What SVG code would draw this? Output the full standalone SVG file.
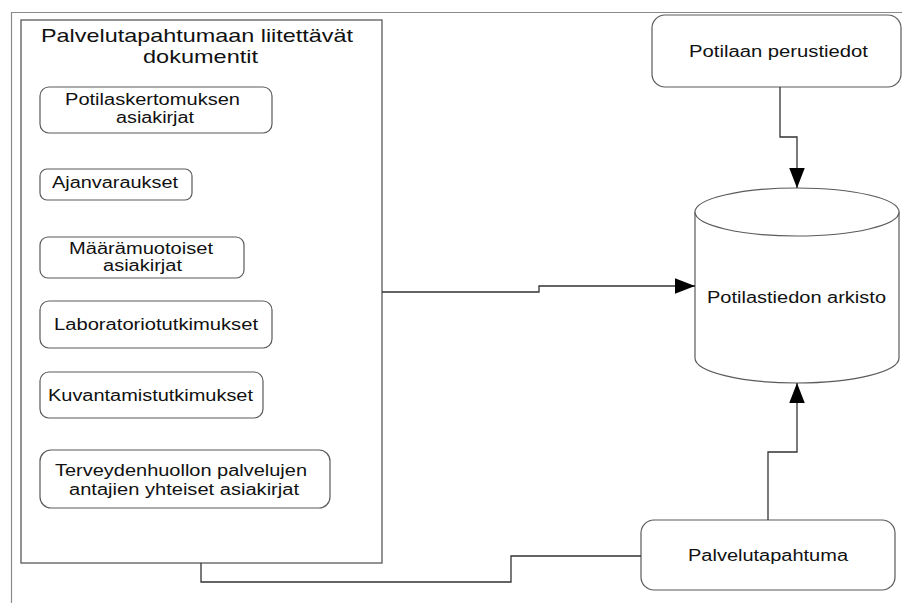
<svg xmlns="http://www.w3.org/2000/svg" width="902" height="603" viewBox="0 0 902 603">
<style>
.frame{fill:none;stroke:#8a8a8a;stroke-width:1.2}
.box{fill:#fff;stroke:#5a5a5a;stroke-width:1.2}
.cont{fill:#fff;stroke:#5a5a5a;stroke-width:1.3}
.conn{fill:none;stroke:#333;stroke-width:1.3}
text{font-family:"Liberation Sans",Arial,sans-serif;fill:#111;}
.t{font-size:16px}
.h{font-size:19px}
</style>
<defs>
<marker id="arr" markerUnits="userSpaceOnUse" markerWidth="20" markerHeight="16" viewBox="0 0 18 14" refX="18" refY="7" orient="auto">
<path d="M0,0 L18,7 L0,14 Z" fill="#000"/>
</marker>
</defs>
<rect width="902" height="603" fill="#fff"/>
<path class="frame" d="M11.5,603 V12.5 H902"/>

<g id="container">
<rect class="cont" x="21" y="20" width="361" height="543"/>
<text class="h" x="41" y="42" textLength="312" lengthAdjust="spacingAndGlyphs">Palvelutapahtumaan liitettävät</text>
<text class="h" x="143" y="63" textLength="115" lengthAdjust="spacingAndGlyphs">dokumentit</text>
</g>

<g id="potilaskertomuksen">
<rect class="box" x="40" y="87" width="232" height="46" rx="9"/>
<text class="t" x="65" y="105" textLength="175" lengthAdjust="spacingAndGlyphs">Potilaskertomuksen</text>
<text class="t" x="116" y="123" textLength="78" lengthAdjust="spacingAndGlyphs">asiakirjat</text>
</g>

<g id="ajanvaraukset">
<rect class="box" x="40" y="169" width="152" height="31" rx="7"/>
<text class="t" x="52" y="188" textLength="126" lengthAdjust="spacingAndGlyphs">Ajanvaraukset</text>
</g>

<g id="maaramuotoiset">
<rect class="box" x="40" y="237" width="204" height="41" rx="8"/>
<text class="t" x="69" y="254" textLength="144" lengthAdjust="spacingAndGlyphs">Määrämuotoiset</text>
<text class="t" x="103" y="271" textLength="79" lengthAdjust="spacingAndGlyphs">asiakirjat</text>
</g>

<g id="laboratoriotutkimukset">
<rect class="box" x="40" y="301" width="232" height="47" rx="9"/>
<text class="t" x="54" y="330" textLength="204" lengthAdjust="spacingAndGlyphs">Laboratoriotutkimukset</text>
</g>

<g id="kuvantamistutkimukset">
<rect class="box" x="40" y="372" width="223" height="46" rx="9"/>
<text class="t" x="48" y="401" textLength="205" lengthAdjust="spacingAndGlyphs">Kuvantamistutkimukset</text>
</g>

<g id="terveydenhuollon">
<rect class="box" x="40" y="450" width="290" height="58" rx="11"/>
<text class="t" x="55" y="476" textLength="252" lengthAdjust="spacingAndGlyphs">Terveydenhuollon palvelujen</text>
<text class="t" x="69" y="495" textLength="230" lengthAdjust="spacingAndGlyphs">antajien yhteiset asiakirjat</text>
</g>

<g id="perustiedot">
<rect class="box" x="652" y="15" width="249" height="72" rx="13"/>
<text class="t" x="689" y="57" textLength="179" lengthAdjust="spacingAndGlyphs">Potilaan perustiedot</text>
</g>

<g id="arkisto">
<path class="box" d="M695,212 V358 A102,25 0 0 0 899,358 V212"/>
<ellipse class="box" cx="797" cy="212" rx="102" ry="24"/>
<text class="t" x="707" y="303" textLength="179" lengthAdjust="spacingAndGlyphs">Potilastiedon arkisto</text>
</g>

<g id="palvelutapahtuma">
<rect class="box" x="641" y="520" width="254" height="70" rx="13"/>
<text class="t" x="688" y="561" textLength="160" lengthAdjust="spacingAndGlyphs">Palvelutapahtuma</text>
</g>

<g id="connectors">
<path class="conn" d="M780,87 V137 H797 V188" marker-end="url(#arr)"/>
<path class="conn" d="M382,292 H539 V286 H695" marker-end="url(#arr)"/>
<path class="conn" d="M768,520 V452 H797 V383" marker-end="url(#arr)"/>
<path class="conn" d="M201,563 V582 H511 V556 H641"/>
</g>
</svg>
